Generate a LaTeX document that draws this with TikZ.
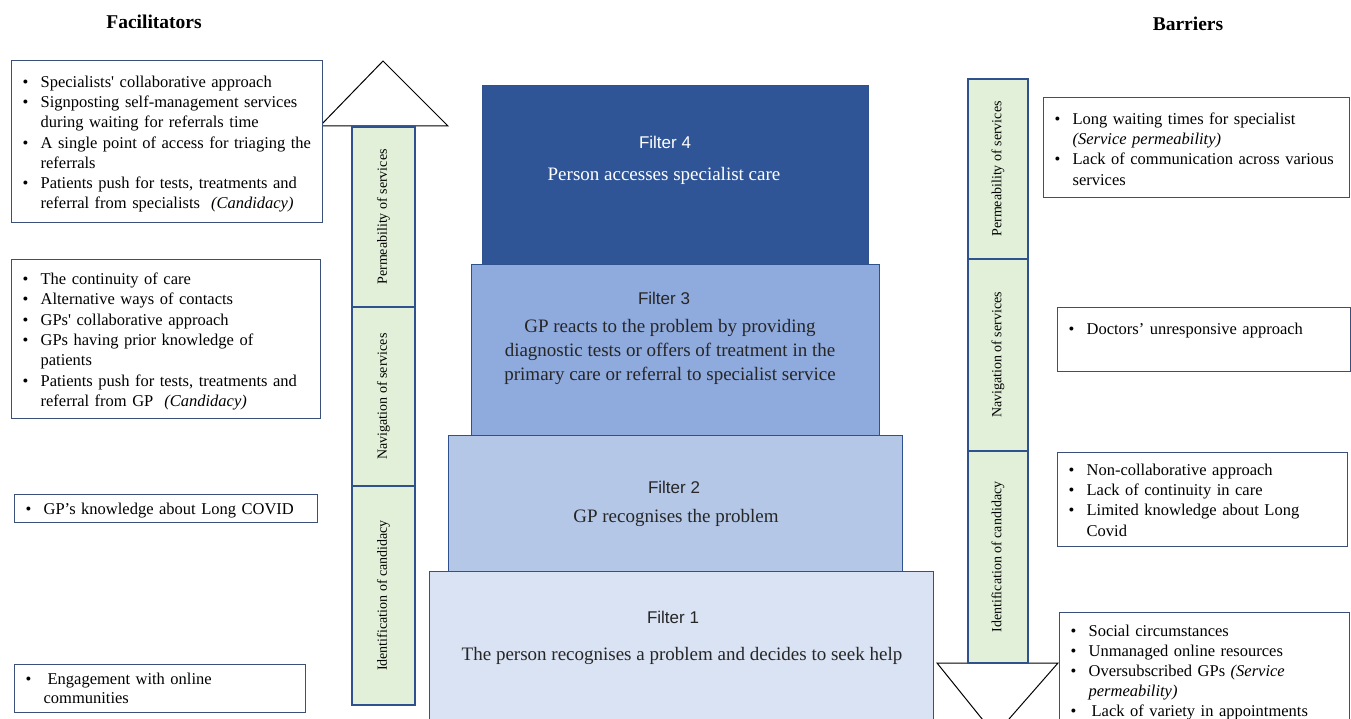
\documentclass[tikz,border=0pt]{standalone}
\usepackage{fontspec}
\setmainfont{Liberation Serif}
\newfontfamily\arialf{Liberation Sans}
\definecolor{bordc}{HTML}{2F528F}
\definecolor{boxc}{HTML}{3A4F7A}
\definecolor{segc}{HTML}{E2F0D9}
\definecolor{fourc}{HTML}{2F5597}
\definecolor{threec}{HTML}{8FAADC}
\definecolor{twoc}{HTML}{B4C7E7}
\definecolor{onec}{HTML}{DAE3F3}
\definecolor{txtc}{HTML}{262626}
\newcommand{\bl}[1]{\par\noindent\makebox[18pt][l]{\textbullet}\mbox{#1}}
\newcommand{\cl}[1]{\par\noindent\hspace*{18pt}\mbox{#1}}
\newcommand{\lift}[1]{\par\nointerlineskip\hbox{\vrule height 0pt depth #1 width 0pt}}
\tikzset{
  txtbox/.style={draw=boxc, line width=1.3pt, fill=white, anchor=north west,
    inner xsep=11pt, inner ysep=0pt, font=\fontsize{16.5}{20.3}\selectfont, align=left},
  seg/.style={draw=bordc, line width=1.2pt, fill=segc, rotate=90, inner sep=0pt,
    font=\fontsize{14}{16}\selectfont},
  filt/.style={draw=bordc, line width=1pt, anchor=north west, inner sep=0pt},
  ftitle/.style={font=\arialf\fontsize{17}{20}\selectfont, text=txtc},
  fdesc/.style={font=\fontsize{19}{24}\selectfont, align=center, text=txtc},
  head/.style={draw=black, line width=1pt, fill=white},
  sidetitle/.style={font=\fontsize{19.5}{22}\selectfont\bfseries}
}
\begin{document}
\begin{tikzpicture}[x=1pt,y=-1pt]
\useasboundingbox (0,0) rectangle (1351,719);
\clip (0,0) rectangle (1351,719);

% titles
\node[sidetitle] (tfac) at (154,22) {Facilitators};
\node[sidetitle] (tbar) at (1188,24) {Barriers};

% filters
\node[filt, fill=onec, minimum width=504, minimum height=170] (f1) at (429,571) {};
\node[filt, fill=twoc, minimum width=454, minimum height=136] (f2) at (448,435) {};
\node[filt, fill=threec, minimum width=408, minimum height=171] (f3) at (471,264) {};
\node[filt, fill=fourc, minimum width=386, minimum height=179] (f4) at (482,85) {};

\node[ftitle, text=white] (f4l) at (665,142) {Filter 4};
\node[fdesc, text=white] (f4d) at (664,176) {Person accesses specialist care};
\node[ftitle] (f3l) at (664,298) {Filter 3};
\node[fdesc] (f3d) at (670,352) {GP reacts to the problem by providing\\diagnostic tests or offers of treatment in the\\primary care or referral to specialist service};
\node[ftitle] (f2l) at (674,487) {Filter 2};
\node[fdesc] (f2d) at (676,518) {GP recognises the problem};
\node[ftitle] (f1l) at (673,617) {Filter 1};
\node[fdesc] (f1d) at (682,656) {The person recognises a problem and decides to seek help};

% left up arrow
\draw[head] (320,126) -- (383,61) -- (448,126) -- cycle;
\node[seg, minimum width=180, minimum height=63] (lperm) at (383.5,217) {Permeability of services};
\node[seg, minimum width=179, minimum height=63] (lnav) at (383.5,396.5) {Navigation of services};
\node[seg, minimum width=219, minimum height=63] (lid) at (383.5,595.5) {Identification of candidacy};

% right down arrow
\draw[head] (937,663) -- (1058,663) -- (995,735) -- cycle;
\node[seg, minimum width=180, minimum height=60] (rperm) at (998,169) {Permeability of services};
\node[seg, minimum width=192, minimum height=60] (rnav) at (998,355) {Navigation of services};
\node[seg, minimum width=212, minimum height=60] (rid) at (998,557) {Identification of candidacy};

% facilitator boxes
\node[txtbox, text width=289pt, minimum height=162pt] (fac1) at (11,60) {%
\bl{Specialists\textquotesingle{} collaborative approach}%
\bl{Signposting self-management services}%
\cl{during waiting for referrals time}%
\bl{A single point of access for triaging the}%
\cl{referrals}%
\bl{Patients push for tests, treatments and}%
\cl{referral from specialists \ \textit{(Candidacy)}}\lift{4pt}};

\node[txtbox, text width=287pt, minimum height=159pt] (fac2) at (11,259) {%
\bl{The continuity of care}%
\bl{Alternative ways of contacts}%
\bl{GPs\textquotesingle{} collaborative approach}%
\bl{GPs having prior knowledge of}%
\cl{patients}%
\bl{Patients push for tests, treatments and}%
\cl{referral from GP \ \textit{(Candidacy)}}\lift{4pt}};

\node[txtbox, text width=281pt, minimum height=27pt] (fac3) at (14,494) {%
\bl{GP’s knowledge about Long COVID}\lift{4pt}};

\node[txtbox, text width=269pt, minimum height=41pt, font=\fontsize{16.5}{19.5}\selectfont] (fac4) at (14,664) {%
\bl{\hspace{4pt}Engagement with online}%
\cl{communities}\lift{9pt}};

% barrier boxes
\node[txtbox, text width=284pt, minimum height=100pt] (bar1) at (1043,97) {%
\bl{Long waiting times for specialist}%
\cl{\textit{(Service permeability)}}%
\bl{Lack of communication across various}%
\cl{services}\lift{6pt}};

\node[txtbox, text width=271pt, minimum height=64pt] (bar2) at (1057,307) {%
\bl{Doctors’ unresponsive approach}\par\mbox{}\lift{10pt}};

\node[txtbox, text width=268pt, minimum height=94pt] (bar3) at (1057,452) {%
\bl{Non-collaborative approach}%
\bl{Lack of continuity in care}%
\bl{Limited knowledge about Long}%
\cl{Covid}\lift{8pt}};

\node[txtbox, text width=268pt, inner ysep=4pt, font=\fontsize{16.5}{20}\selectfont] (bar4) at (1059,612) {%
\bl{Social circumstances}%
\bl{Unmanaged online resources}%
\bl{Oversubscribed GPs \textit{(Service}}%
\cl{\textit{permeability)}}%
\bl{\hspace{3pt}Lack of variety in appointments}%
\cl{\mbox{}}};
\end{tikzpicture}
\end{document}
